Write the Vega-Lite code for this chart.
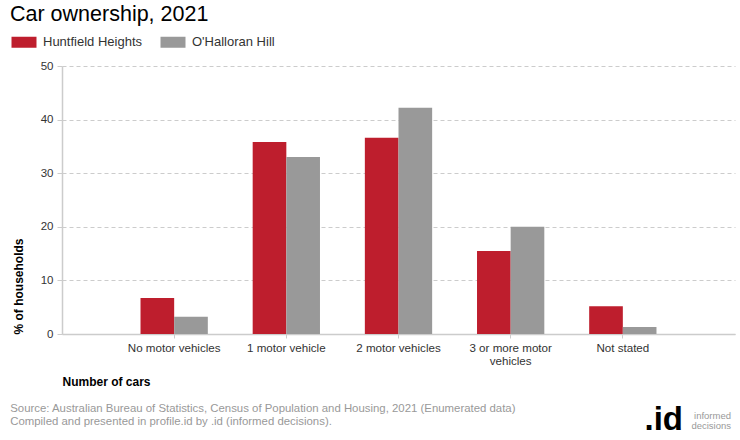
{
  "$schema": "https://vega.github.io/schema/vega-lite/v6.json",
  "background": "white",
  "padding": {"left": 10, "top": 4, "right": 5, "bottom": 5},
  "config": {
    "font": "Liberation Sans",
    "view": {"stroke": null},
    "concat": {"spacing": 0}
  },
  "title": {
    "text": ["informed", "decisions"], "orient": "bottom", "anchor": "end", "frame": "bounds",
    "fontSize": 9.5, "fontWeight": "normal", "color": "#999999", "lineHeight": 10, "offset": 0, "dy": -26, "dx": -4
  },
  "vconcat": [{
    "title": {
      "text": ".id", "orient": "bottom", "anchor": "end", "frame": "bounds",
      "fontSize": 33, "fontWeight": "bold", "color": "#000000", "dx": -52, "offset": 0, "dy": -23
    },
    "vconcat": [{
      "title": {
        "text": ["Source: Australian Bureau of Statistics, Census of Population and Housing, 2021 (Enumerated data)", "Compiled and presented in profile.id by .id (informed decisions)."],
        "orient": "bottom", "anchor": "start", "frame": "bounds", "dx": -2,
        "fontSize": 11.4, "fontWeight": "normal", "color": "#999999", "lineHeight": 13, "offset": 15
      },
      "width": 673,
      "height": 268,
      "data": {"values": [
        {"category": "No motor vehicles", "area": "Huntfield Heights", "value": 6.7},
        {"category": "No motor vehicles", "area": "O'Halloran Hill", "value": 3.2},
        {"category": "1 motor vehicle", "area": "Huntfield Heights", "value": 35.8},
        {"category": "1 motor vehicle", "area": "O'Halloran Hill", "value": 33.0},
        {"category": "2 motor vehicles", "area": "Huntfield Heights", "value": 36.6},
        {"category": "2 motor vehicles", "area": "O'Halloran Hill", "value": 42.2},
        {"category": "3 or more motor vehicles", "area": "Huntfield Heights", "value": 15.5},
        {"category": "3 or more motor vehicles", "area": "O'Halloran Hill", "value": 20.0},
        {"category": "Not stated", "area": "Huntfield Heights", "value": 5.2},
        {"category": "Not stated", "area": "O'Halloran Hill", "value": 1.3}
      ]},
      "mark": {"type": "bar"},
      "encoding": {
        "x": {
          "field": "category", "type": "nominal",
          "sort": ["No motor vehicles", "1 motor vehicle", "2 motor vehicles", "3 or more motor vehicles", "Not stated"],
          "scale": {"paddingInner": 0.4, "paddingOuter": 0.7},
          "axis": {
            "title": "Number of cars", "titleFontSize": 12, "titleFontWeight": "bold", "titleColor": "#000000",
            "titleAnchor": "start", "titleAlign": "left", "titlePadding": 10,
            "labelAngle": 0, "labelFontSize": 11.6, "labelColor": "#333333", "labelPadding": 4,
            "labelExpr": "datum.label == '3 or more motor vehicles' ? ['3 or more motor', 'vehicles'] : datum.label",
            "labelLineHeight": 13,
            "domainColor": "#cccccc", "domainWidth": 1.5, "tickColor": "#cccccc", "tickSize": 4, "grid": false
          }
        },
        "xOffset": {"field": "area", "type": "nominal"},
        "y": {
          "field": "value", "type": "quantitative",
          "scale": {"domain": [0, 50]},
          "axis": {
            "title": "% of households", "titleFontSize": 12, "titleFontWeight": "bold", "titleColor": "#000000",
            "titleAnchor": "start", "titlePadding": 15, "values": [0, 10, 20, 30, 40, 50],
            "labelFontSize": 11.5, "labelColor": "#333333", "labelPadding": 4,
            "domainColor": "#cccccc", "domainWidth": 1.5, "tickColor": "#cccccc", "tickSize": 5,
            "grid": true, "gridColor": "#cccccc", "gridDash": [4, 3]
          }
        },
        "color": {
          "field": "area", "type": "nominal",
          "scale": {"domain": ["Huntfield Heights", "O'Halloran Hill"], "range": ["#BE1E2D", "#999999"]},
          "legend": {
            "orient": "none", "legendX": -52, "legendY": -62, "direction": "horizontal",
            "title": "Car ownership, 2021", "titleFontSize": 21.5, "titleFontWeight": "normal", "titleColor": "#000000",
            "titlePadding": 10, "titleLimit": 0,
            "symbolType": "M-1,-1.1H4V1.1H-1Z", "symbolSize": 100, "symbolStrokeWidth": 0,
            "labelFontSize": 13, "labelColor": "#333333", "labelOffset": 20, "columnPadding": 17
          }
        }
      }
    }]
  }]
}
